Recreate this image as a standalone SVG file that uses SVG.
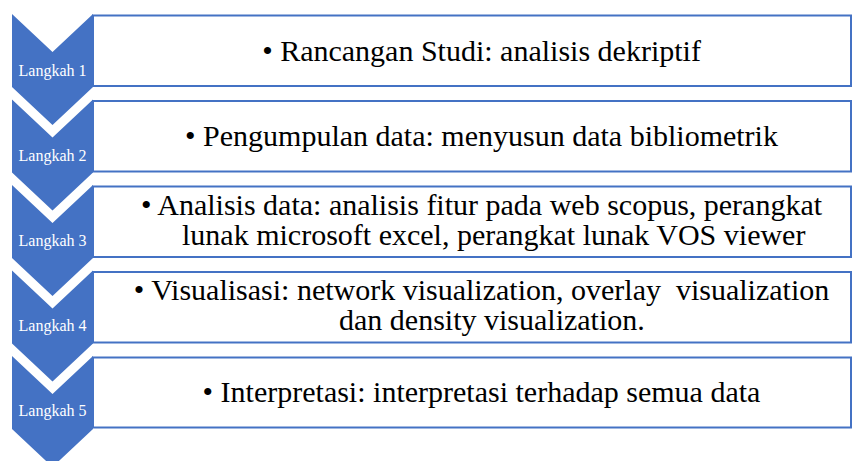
<svg xmlns="http://www.w3.org/2000/svg" width="853" height="461" viewBox="0 0 853 461">
<style>
.chev{fill:#4472C4}
.box{fill:#FFFFFF;stroke:#4472C4;stroke-width:2}
text{font-family:"Liberation Serif",Tinos,"Times New Roman","DejaVu Serif",serif}
.lbl{font-size:16px;fill:#FFFFFF;text-anchor:middle}
.txt{font-size:30px;fill:#000000}
.mid{text-anchor:middle}
</style>
<rect width="853" height="461" fill="#FFFFFF"/>
<g id="step1">
<rect class="box" x="93" y="15.5" width="758" height="70.5"/>
<polygon class="chev" points="12,14 52.5,52 93,14 93,87 52.5,125 12,87"/>
<text class="lbl" x="52.5" y="76" font-family="Liberation Serif, serif">Langkah 1</text>
<text class="txt mid" x="481.5" y="61" font-family="Liberation Serif, serif">• Rancangan Studi: analisis dekriptif</text>
</g>
<g id="step2">
<rect class="box" x="93" y="101" width="758" height="70.5"/>
<polygon class="chev" points="12,99.5 52.5,137.5 93,99.5 93,172.5 52.5,210.5 12,172.5"/>
<text class="lbl" x="52.5" y="161" font-family="Liberation Serif, serif">Langkah 2</text>
<text class="txt mid" x="481.5" y="146" font-family="Liberation Serif, serif">• Pengumpulan data: menyusun data bibliometrik</text>
</g>
<g id="step3">
<rect class="box" x="93" y="186.5" width="758" height="70.5"/>
<polygon class="chev" points="12,185 52.5,223 93,185 93,258 52.5,296 12,258"/>
<text class="lbl" x="52.5" y="246" font-family="Liberation Serif, serif">Langkah 3</text>
<text class="txt mid" x="481.5" y="215" font-family="Liberation Serif, serif">• Analisis data: analisis fitur pada web scopus, perangkat</text>
<text class="txt" x="182" y="245" font-family="Liberation Serif, serif">lunak microsoft excel, perangkat lunak VOS viewer</text>
</g>
<g id="step4">
<rect class="box" x="93" y="272" width="758" height="70.5"/>
<polygon class="chev" points="12,270.5 52.5,308.5 93,270.5 93,343.5 52.5,381.5 12,343.5"/>
<text class="lbl" x="52.5" y="331" font-family="Liberation Serif, serif">Langkah 4</text>
<text class="txt mid" x="481.5" y="300" xml:space="preserve" font-family="Liberation Serif, serif">• Visualisasi: network visualization, overlay  visualization</text>
<text class="txt" x="339" y="330" font-family="Liberation Serif, serif">dan density visualization.</text>
</g>
<g id="step5">
<rect class="box" x="93" y="357.5" width="758" height="70"/>
<polygon class="chev" points="12,356 52.5,394 93,356 93,429 52.5,467 12,429"/>
<text class="lbl" x="52.5" y="416" font-family="Liberation Serif, serif">Langkah 5</text>
<text class="txt mid" x="481.5" y="402" font-family="Liberation Serif, serif">• Interpretasi: interpretasi terhadap semua data</text>
</g>
<g id="connectors"></g>
</svg>
